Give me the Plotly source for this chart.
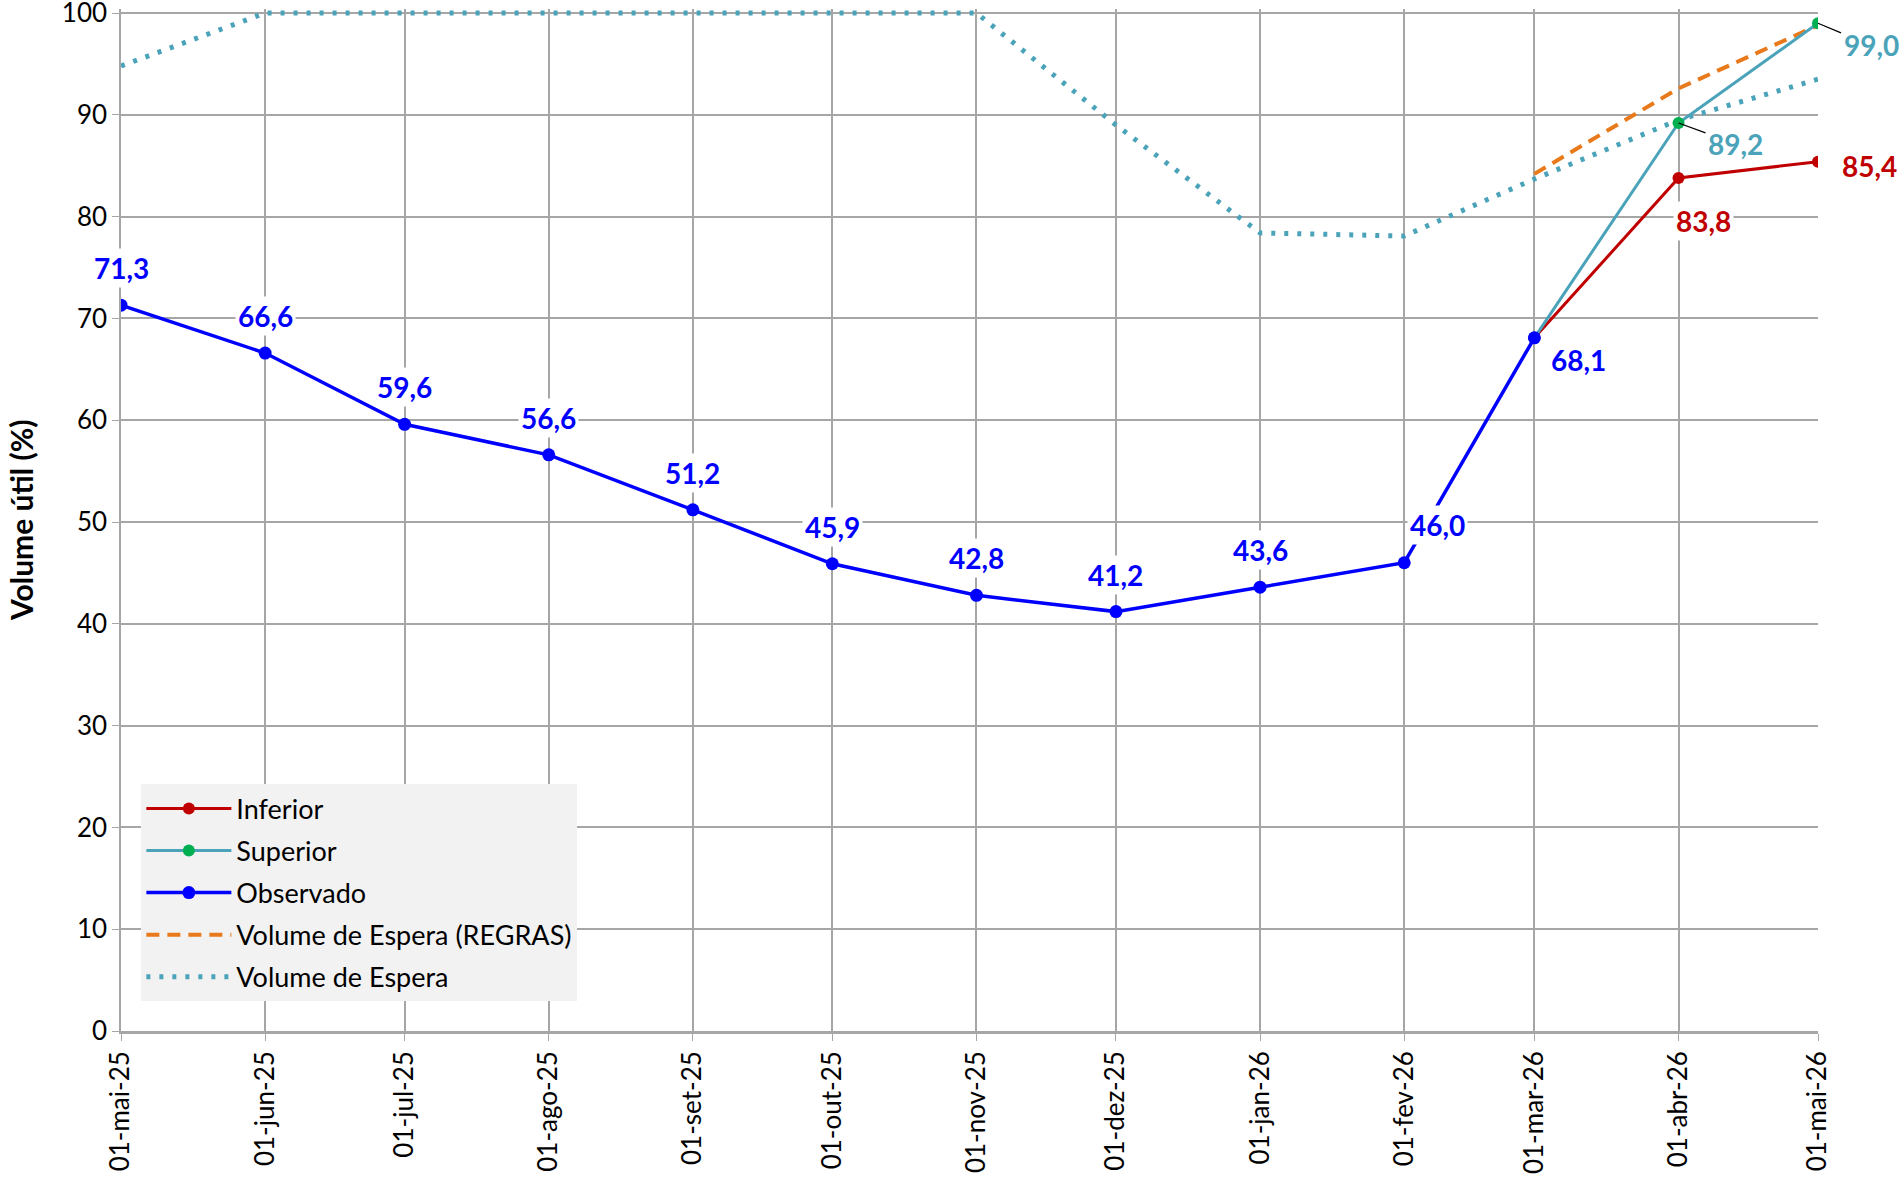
import plotly.graph_objects as go

months = ["2025-05-01", "2025-06-01", "2025-07-01", "2025-08-01", "2025-09-01", "2025-10-01",
          "2025-11-01", "2025-12-01", "2026-01-01", "2026-02-01", "2026-03-01", "2026-04-01", "2026-05-01"]
tick_labels = ["01-mai-25", "01-jun-25", "01-jul-25", "01-ago-25", "01-set-25", "01-out-25",
               "01-nov-25", "01-dez-25", "01-jan-26", "01-fev-26", "01-mar-26", "01-abr-26", "01-mai-26"]
y_ticks = [0, 10, 20, 30, 40, 50, 60, 70, 80, 90, 100]

obs_dates = months[:11]
observado = [71.3, 66.6, 59.6, 56.6, 51.2, 45.9, 42.8, 41.2, 43.6, 46.0, 68.1]

prev_dates = months[10:]
inferior = [68.1, 83.8, 85.4]
superior = [68.1, 89.2, 99.0]
regras = [84.2, 92.6, 98.8]

espera = [94.8, 100, 100, 100, 100, 100, 100, 89.0, 78.4, 78.1, 83.7, 89.5, 93.5]

BLUE = "#0000FF"
RED = "#C00000"
TEAL = "#4BA3BA"
GREEN = "#00B050"
ORANGE = "#E97A1C"
FONT = "Lato"

fig = go.Figure()
fig.add_trace(go.Scatter(x=months, y=espera, name="Volume de Espera", mode="lines", legendrank=5,
                         legendgroup="e", line=dict(color=TEAL, width=5, dash="4px,9px")))
fig.add_trace(go.Scatter(x=prev_dates, y=regras, name="Volume de Espera (REGRAS)", mode="lines", legendrank=4,
                         legendgroup="r", line=dict(color=ORANGE, width=4, dash="13px,8px")))
fig.add_trace(go.Scatter(x=prev_dates, y=inferior, name="Inferior", mode="lines+markers", legendrank=1,
                         legendgroup="i", line=dict(color=RED, width=3), marker=dict(color=RED, size=12)))
fig.add_trace(go.Scatter(x=prev_dates, y=superior, name="Superior", mode="lines+markers", legendrank=2,
                         legendgroup="s", line=dict(color=TEAL, width=3), marker=dict(color=GREEN, size=12)))
fig.add_trace(go.Scatter(x=obs_dates, y=observado, name="Observado", mode="lines+markers", legendrank=3,
                         legendgroup="o", line=dict(color=BLUE, width=3.5), marker=dict(color=BLUE, size=13)))

LS = 28
lab_font = dict(family=FONT, size=LS, color=BLUE)
obs_offsets = [(0, -37), (0, -37), (0, -37), (0, -37), (0, -37), (0, -37), (0, -37), (0, -37), (0, -37), (33, -38), (44, 22)]
for d, v, (dx, dy) in zip(obs_dates, observado, obs_offsets):
    fig.add_annotation(x=d, y=v, text=f"<b>{v:.1f}</b>".replace(".", ","), showarrow=False,
                       xshift=dx, yshift=-dy, font=lab_font, bgcolor="white", borderpad=2)

for d, v, (dx, dy) in zip(prev_dates[1:], inferior[1:], [(25, 43), (51, 4)]):
    fig.add_annotation(x=d, y=v, text=f"<b>{v:.1f}</b>".replace(".", ","), showarrow=False,
                       xshift=dx, yshift=-dy, font=dict(family=FONT, size=LS, color=RED),
                       bgcolor="white", borderpad=2)

for d, v, (dx, dy) in zip(prev_dates[1:], superior[1:], [(57, 21), (53, 22)]):
    fig.add_annotation(x=d, y=v, text=f"<b>{v:.1f}</b>".replace(".", ","), showarrow=True,
                       arrowhead=0, arrowwidth=1.3, arrowcolor="black", ax=dx, ay=dy,
                       font=dict(family=FONT, size=LS, color=TEAL), bgcolor="white", borderpad=2)

# y-axis title
fig.add_annotation(text="<b>Volume útil (%)</b>", xref="paper", yref="paper", x=0, y=0.5,
                   xanchor="center", yanchor="middle", xshift=-100, textangle=-90, showarrow=False,
                   borderpad=0, font=dict(family=FONT, size=30, color="black"))

grid = "#A6A6A6"
fig.update_layout(
    width=1903, height=1187,
    margin=dict(l=121, r=85, t=9, b=156),
    plot_bgcolor="white", paper_bgcolor="white",
    font=dict(family=FONT, size=25, color="black"),
    showlegend=True,
    legend=dict(x=0.012, y=0.029, xanchor="left", yanchor="bottom", bgcolor="#F2F2F2",
                font=dict(family=FONT, size=27, color="black"), tracegroupgap=4,
                itemwidth=85, borderwidth=0, traceorder="grouped"),
    xaxis=dict(type="date", range=[months[0], months[-1]], tickvals=months, ticktext=tick_labels,
               tickangle=-90, showgrid=True, gridcolor=grid, gridwidth=1.5, automargin=False,
               showline=True, linecolor=grid, linewidth=2.5, ticks="outside", ticklen=7,
               tickcolor=grid, tickfont=dict(family=FONT, size=26), zeroline=False),
    yaxis=dict(range=[0, 100.4], tickvals=y_ticks, showgrid=True, gridcolor=grid, gridwidth=1.5,
               showline=True, linecolor=grid, linewidth=1.5, ticks="outside", ticklen=7,
               tickcolor=grid, tickfont=dict(family=FONT, size=26), zeroline=False, automargin=False,
               ticklabeloverflow="allow"),
)

fig.write_html("out.html", config={"displayModeBar": False},
               post_script="document.body.style.margin='0';")
